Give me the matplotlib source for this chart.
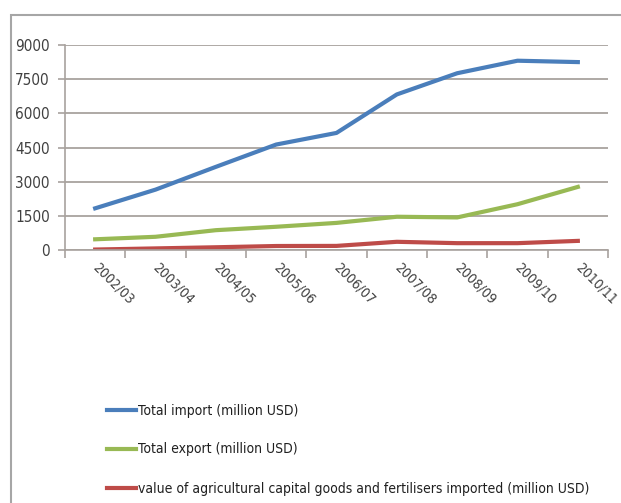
import matplotlib
matplotlib.use('Agg')
from matplotlib import pyplot as plt
from matplotlib.patches import Rectangle

years = ['2002/03', '2003/04', '2004/05', '2005/06', '2006/07',
         '2007/08', '2008/09', '2009/10', '2010/11']
total_import = [1830, 2650, 3650, 4630, 5140, 6830, 7760, 8310, 8250]
total_export = [470, 580, 870, 1020, 1190, 1460, 1430, 2010, 2770]
agri_import = [20, 70, 120, 175, 180, 360, 300, 300, 400]

plt.rcParams['font.family'] = ['DejaVu Sans']
plt.rcParams['font.stretch'] = 'condensed'

fig = plt.figure(figsize=(6.21, 5.03), dpi=100)
ax = fig.add_axes([65/621, 1-250/503, 543/621, 205/503])

x = list(range(len(years)))
ax.plot(x, total_import, c='#4A7EBB', lw=3, label='Total import (million USD)')
ax.plot(x, total_export, c='#98B954', lw=3, label='Total export (million USD)')
ax.plot(x, agri_import, c='#BE4B48', lw=3,
        label='value of agricultural capital goods and fertilisers imported (million USD)')

ax.set_xlim(-0.5, 8.5)
ax.set_ylim(0, 9000)
ax.set_yticks([0, 1500, 3000, 4500, 6000, 7500, 9000])
ax.yaxis.grid(True, color='#A8A29E', lw=1.3)
ax.set_axisbelow(True)

ax.set_xticks([i - 0.5 for i in range(len(years) + 1)])
ax.set_xticklabels([])
ax.set_xticks(x, minor=True)
ax.set_xticklabels(years, minor=True, rotation=-45, ha='left', va='center',
                   rotation_mode='anchor', fontsize=10, color='#404040')
ax.tick_params(axis='x', which='minor', length=0, pad=11)
ax.tick_params(axis='x', which='major', length=6, color='#A8A29E', width=1.2)
ax.tick_params(axis='y', length=5, color='#A8A29E', width=1.2,
               labelsize=11, labelcolor='#404040', pad=6)

for s in ['top', 'right']:
    ax.spines[s].set_visible(False)
ax.spines['left'].set_color('#A8A29E')
ax.spines['bottom'].set_color('#A8A29E')
ax.spines['left'].set_linewidth(1.2)
ax.spines['bottom'].set_linewidth(1.2)

fig.patches.append(Rectangle((11/621, -0.1), 1.0, 1 - 15/503 + 0.1,
                             transform=fig.transFigure, fill=False,
                             edgecolor='#A6A6A6', lw=1.5))

fig.legend(loc='upper left', bbox_to_anchor=(94/621, 1 - 391/503),
           frameon=False, fontsize=10, handlelength=2.15, handletextpad=0.15,
           labelspacing=1.8, labelcolor='#202020')

plt.savefig('out.png', dpi=100)
